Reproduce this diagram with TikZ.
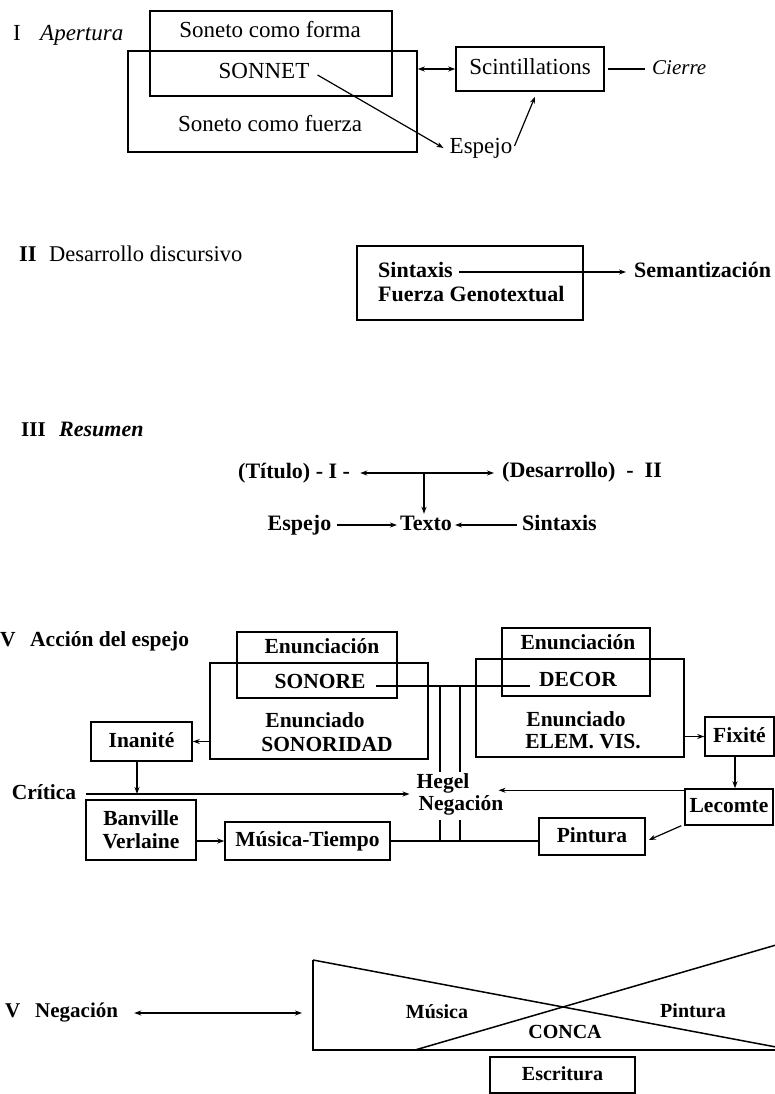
\documentclass[tikz,border=0pt]{standalone}
\usepackage{fontspec}
\setmainfont{Liberation Serif}
\usetikzlibrary{arrows.meta,calc}
\begin{document}
\begin{tikzpicture}[x=1pt,y=-1pt,
  box/.style={draw,line width=1.5pt,inner sep=0pt},
  tx/.style={text height=15.5pt,text depth=4.5pt},
  shp/.style={line width=1.5pt},
  lab/.style={inner sep=0pt,tx},
  rg/.style={font=\fontsize{23}{26}\selectfont},
  hd/.style={font=\fontsize{22.5}{26}\selectfont},
  bdtwo/.style={font=\bfseries\fontsize{22}{25}\selectfont},
  bd/.style={font=\bfseries\fontsize{21.5}{23}\selectfont},
  bv/.style={font=\bfseries\fontsize{20}{23}\selectfont},
  conn/.style={line width=1.2pt},
  arr/.style={conn,-{Stealth[length=7pt,width=5pt]}},
  darr/.style={conn,{Stealth[length=7pt,width=5pt]}-{Stealth[length=7pt,width=5pt]}}]
\useasboundingbox (0,0) rectangle (775,1094);

% ---------- I Apertura ----------
\node[lab,rg,anchor=west] (h1n) at (13,35) {I};
\node[lab,rg,anchor=west] (h1t) at (40,35) {\textit{Apertura}};
\node[box,minimum width=289pt,minimum height=101pt] (fuerza) at (272.5,101.5) {};
\node[box,minimum width=242pt,minimum height=85pt] (forma) at (271,53.5) {};
\node[lab,rg] (tforma) at (270,32) {Soneto como forma};
\node[lab,rg] (sonnet) at (264,73) {SONNET};
\node[lab,rg] (tfuerza) at (270,126) {Soneto como fuerza};
\node[box,tx,rg,minimum width=148pt,minimum height=44pt] (scint) at (530,69) {Scintillations};
\node[lab,anchor=west,font=\itshape\fontsize{21}{24}\selectfont] (cierre) at (652,69) {Cierre};
\node[lab,rg] (espejo) at (481,148) {Espejo};
\draw[darr] (fuerza.east |- scint.west) -- (scint.west);
\draw[conn] ($(scint.east)+(3,0)$) -- ($(scint.east -| cierre.west)+(-7,0)$);
\draw[arr] ($(sonnet.east)+(8,2)$) -- ($(espejo.west)+(-6,0)$);
\draw[arr] ($(espejo.east)+(2,-2)$) -- ($(scint.south)+(5,5)$);

% ---------- II Desarrollo discursivo ----------
\node[lab,hd,anchor=west] (h2n) at (19,256) {\textbf{II}};
\node[lab,hd,anchor=west] (h2t) at (49,256) {Desarrollo discursivo};
\node[box,minimum width=226pt,minimum height=74pt] (gbox) at (470,283) {};
\node[lab,bdtwo,anchor=west] (sint) at (378,272) {Sintaxis};
\node[lab,bdtwo,anchor=west] (geno) at (378,296) {Fuerza Genotextual};
\node[lab,bdtwo,anchor=west] (sem) at (634,272) {Semantización};
\draw[arr] ($(sint.east)+(6,0)$) -- ($(sint.east -| sem.west)+(-8,0)$);

% ---------- III Resumen ----------
\node[lab,anchor=west,font=\bfseries\fontsize{21}{24}\selectfont] (h3n) at (21,431) {III};
\node[lab,anchor=west,font=\bfseries\itshape\fontsize{22}{24}\selectfont] (h3t) at (59,431) {Resumen};
\node[lab,bdtwo,anchor=west] (titulo) at (238,473) {(Título) - I -};
\node[lab,bdtwo,anchor=west] (desa) at (502,472) {(Desarrollo)\ \ -\ \ II};
\draw[darr] ($(titulo.east)+(10,0)$) -- ($(titulo.east -| desa.west)+(-8,0)$);
\coordinate (tmid) at (424,473);
\node[lab,bdtwo] (texto) at (426,525) {Texto};
\node[lab,bdtwo] (esp2) at (299.5,525) {Espejo};
\node[lab,bdtwo] (sint2) at (559.5,525) {Sintaxis};
\draw[arr] (tmid) -- ($(tmid |- texto.north)+(0,-1)$);
\draw[arr] ($(texto.west -| esp2.east)+(6,0)$) -- ($(texto.west)+(-3,0)$);
\draw[arr] ($(texto.east -| sint2.west)+(-5,0)$) -- ($(texto.east)+(3,0)$);

% ---------- IV Accion del espejo ----------
\node[lab,bd,anchor=west] (h4n) at (0,641) {V};
\node[lab,bd,anchor=west] (h4t) at (30,641) {Acción del espejo};
\node[box,minimum width=218pt,minimum height=96pt] (endo1) at (319,711) {};
\node[box,minimum width=160pt,minimum height=66pt] (enc1) at (317,665) {};
\node[lab,bd] (enc1t) at (322,648) {Enunciación};
\node[lab,bd] (sonore) at (320,683) {SONORE};
\node[lab,bd] (endo1a) at (315,722) {Enunciado};
\node[lab,bd] (endo1b) at (327,746) {SONORIDAD};
\node[box,minimum width=208pt,minimum height=98pt] (endo2) at (580,708) {};
\node[box,minimum width=148pt,minimum height=68pt] (enc2) at (576,662) {};
\node[lab,bd] (enc2t) at (578,644) {Enunciación};
\node[lab,bd] (decor) at (578,681) {DECOR};
\node[lab,bd] (endo2a) at (576,721) {Enunciado};
\node[lab,bd] (endo2b) at (583,743) {ELEM. VIS.};
\coordinate (hlL) at (376,686);
\coordinate (hlR) at (530,686);
\draw[conn] (hlL) -- (hlR);
\node[lab,bd] (hegel) at (443,783) {Hegel};
\node[lab,bd] (negacion) at (461,805) {Negación};
\coordinate (v1a) at (440,686); \coordinate (v1b) at (440,772);
\coordinate (v2a) at (460,686); \coordinate (v2b) at (460,772);
\coordinate (v1c) at (440,820); \coordinate (v1d) at (440,841);
\coordinate (v2c) at (460,820); \coordinate (v2d) at (460,841);
\draw[conn] (v1a) -- (v1b);
\draw[conn] (v2a) -- (v2b);
\draw[conn] (v1c) -- (v1d);
\draw[conn] (v2c) -- (v2d);
\node[box,tx,bd,minimum width=101pt,minimum height=39pt] (inanite) at (141.5,741.5) {Inanité};
\draw[arr] (endo1.west |- inanite.east) -- (inanite.east);
\node[lab,bd] (critica) at (44,794) {Crítica};
\coordinate (critL) at (86,794);
\draw[arr] ($(inanite.south)+(-4.5,0)$) -- ($(inanite.south |- critL)+(-4.5,0)$);
\draw[arr] (critL) -- ($(critL -| hegel.west)+(-7,0)$);
\node[box,tx,bd,minimum width=69pt,minimum height=39pt] (fixite) at (739.5,736.5) {Fixité};
\draw[arr] (endo2.east |- fixite.west) -- (fixite.west);
\node[box,tx,bd,minimum width=88pt,minimum height=36pt] (lecomte) at (729,807) {Lecomte};
\draw[arr] ($(fixite.south)+(-4.5,0)$) -- ($(fixite.south |- lecomte.north)+(-4.5,0)$);
\draw[arr] ($(lecomte.north west)+(0,2)$) -- ($(lecomte.north west -| negacion.east)+(-5,2)$);
\node[box,bd,align=center,minimum width=110pt,minimum height=60pt] (banville) at (141,830) {Banville\\Verlaine};
\node[box,tx,bd,minimum width=165pt,minimum height=38pt] (musica) at (307.5,841) {Música-Tiempo};
\draw[arr] (banville.east |- musica.west) -- (musica.west);
\node[box,tx,bd,minimum width=106pt,minimum height=37pt] (pintura) at (592,836.5) {Pintura};
\draw[conn] (musica.east) -- (musica.east -| pintura.west);
\draw[arr] ($(lecomte.south west)+(-3,0)$) -- ($(pintura.east)+(3,3.5)$);

% ---------- V Negacion ----------
\node[lab,anchor=west,font=\bfseries\fontsize{21}{24}\selectfont] (h5n) at (5,1012) {V};
\node[lab,anchor=west,font=\bfseries\fontsize{21}{24}\selectfont] (h5t) at (35,1012) {Negación};
\coordinate (TL) at (313,960);
\coordinate (BL) at (313,1050);
\coordinate (BR) at (776,1050);
\coordinate (TR) at (776,945);
\coordinate (Rf) at (776,1047);
\coordinate (Bs) at (415,1050);
\draw[shp] (TL) -- (BL) -- (BR);
\draw[shp] (TL) -- (Rf);
\draw[shp] (Bs) -- (TR);
\coordinate (trapL) at (313,1013);
\draw[darr] ($(h5t.east)+(16,1)$) -- ($(trapL |- h5t.east)+(-11,1)$);
\node[lab,bv] (vmus) at (437,1013) {Música};
\node[lab,bv] (vpin) at (693,1012) {Pintura};
\node[lab,bv] (vconca) at (565,1033) {CONCA};
\node[box,tx,bv,minimum width=145pt,minimum height=36pt] (escr) at (562.5,1075) {Escritura};
\end{tikzpicture}
\end{document}
